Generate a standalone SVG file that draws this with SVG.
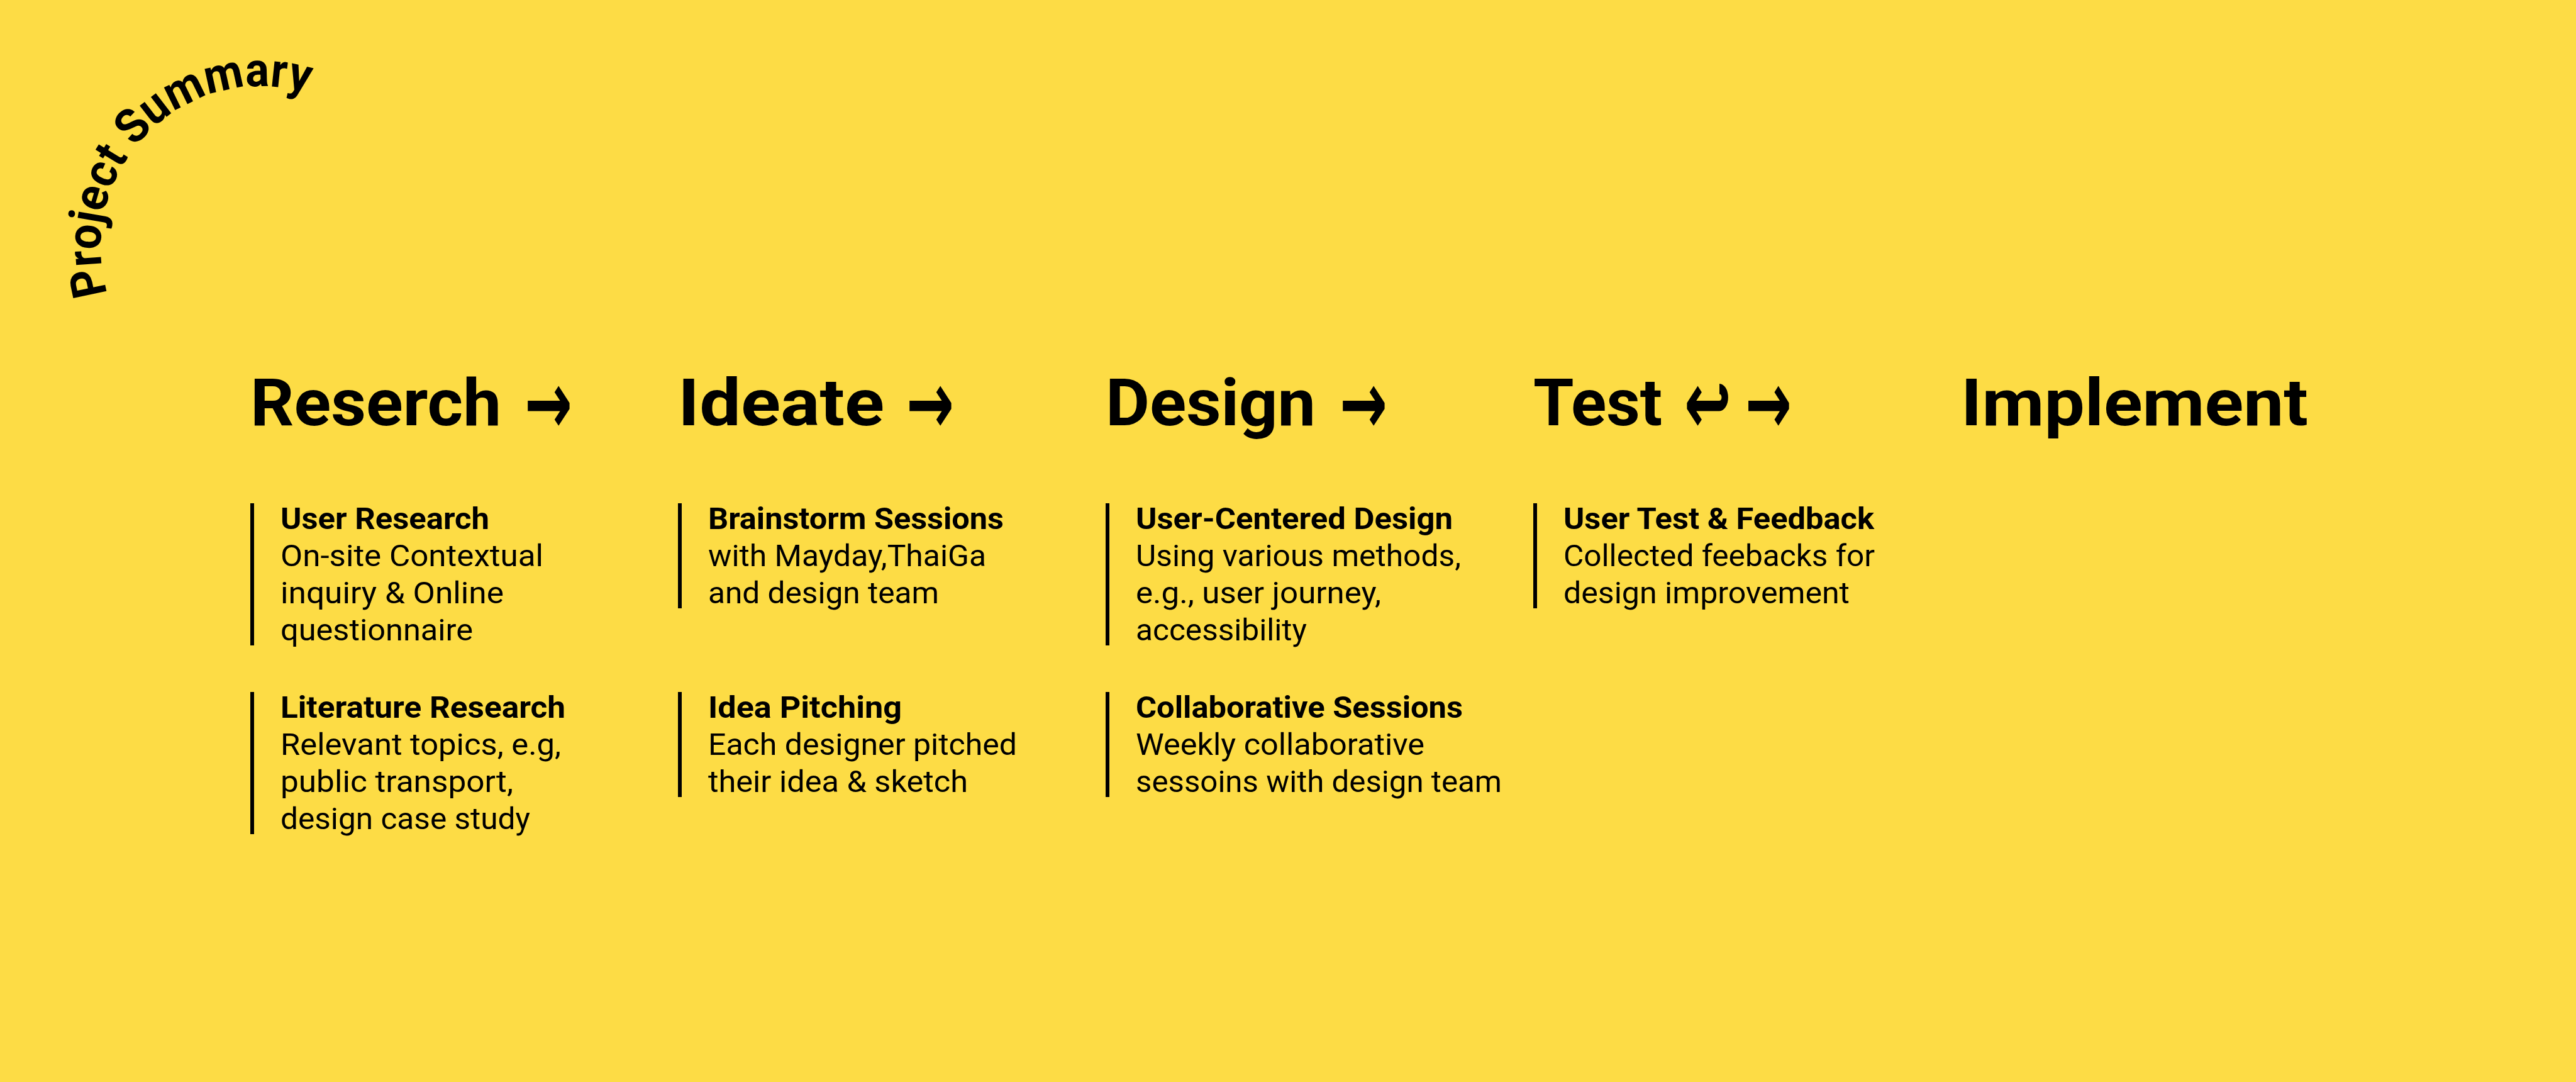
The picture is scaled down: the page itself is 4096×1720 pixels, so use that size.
<svg xmlns="http://www.w3.org/2000/svg" width="4096" height="1720" viewBox="0 0 4096 1720">
<style>
text{fill:#000;font-family:Roboto,'Liberation Sans',Arial,sans-serif}
.h{font-size:104px;font-weight:700}
.t{font-size:48px;font-weight:400}
.b{font-weight:700}
.arr{font-family:'DejaVu Sans',sans-serif;font-size:110px;font-weight:700}
.ps{font-size:76px;font-weight:700}
.bar{fill:#000}
</style>
<defs>
<path id="arc" d="M175.4,479.2 A255,255 0 0 1 542.5,171.2" fill="none"/>
</defs>
<rect width="4096" height="1720" fill="#FDDC45"/>
<g id="title">
<text class="ps"><textPath href="#arc" startOffset="13" textLength="552" lengthAdjust="spacingAndGlyphs">Project Summary</textPath></text>
</g>
<g id="connectors" transform="matrix(1,0,0,1.27,0,-186.03)">
<text class="arr" x="834" y="689" textLength="76" lengthAdjust="spacingAndGlyphs">→</text>
<text class="arr" x="1441" y="689" textLength="76" lengthAdjust="spacingAndGlyphs">→</text>
<text class="arr" x="2130" y="689" textLength="76" lengthAdjust="spacingAndGlyphs">→</text>
<text class="arr" x="2678" y="689" textLength="75" lengthAdjust="spacingAndGlyphs">↩</text>
<text class="arr" x="2775" y="689" textLength="74" lengthAdjust="spacingAndGlyphs">→</text>
</g>
<g id="research">
<text class="h" x="398" y="676" textLength="399" lengthAdjust="spacingAndGlyphs">Reserch</text>
<rect class="bar" x="398" y="800" width="6" height="226"/>
<text class="t b" x="446" y="841" textLength="332" lengthAdjust="spacingAndGlyphs">User Research</text>
<text class="t" x="446" y="900" textLength="418" lengthAdjust="spacingAndGlyphs">On-site Contextual</text>
<text class="t" x="446" y="959" textLength="355" lengthAdjust="spacingAndGlyphs">inquiry &amp; Online</text>
<text class="t" x="446" y="1018" textLength="306" lengthAdjust="spacingAndGlyphs">questionnaire</text>
<rect class="bar" x="398" y="1100" width="6" height="226"/>
<text class="t b" x="446" y="1141" textLength="453" lengthAdjust="spacingAndGlyphs">Literature Research</text>
<text class="t" x="446" y="1200" textLength="446" lengthAdjust="spacingAndGlyphs">Relevant topics, e.g,</text>
<text class="t" x="446" y="1259" textLength="370" lengthAdjust="spacingAndGlyphs">public transport,</text>
<text class="t" x="446" y="1318" textLength="397" lengthAdjust="spacingAndGlyphs">design case study</text>
</g>
<g id="ideate">
<text class="h" x="1078" y="676" textLength="328" lengthAdjust="spacingAndGlyphs">Ideate</text>
<rect class="bar" x="1078" y="800" width="6" height="167"/>
<text class="t b" x="1126" y="841" textLength="470" lengthAdjust="spacingAndGlyphs">Brainstorm Sessions</text>
<text class="t" x="1126" y="900" textLength="442" lengthAdjust="spacingAndGlyphs">with Mayday,ThaiGa</text>
<text class="t" x="1126" y="959" textLength="367" lengthAdjust="spacingAndGlyphs">and design team</text>
<rect class="bar" x="1078" y="1100" width="6" height="167"/>
<text class="t b" x="1126" y="1141" textLength="308" lengthAdjust="spacingAndGlyphs">Idea Pitching</text>
<text class="t" x="1126" y="1200" textLength="491" lengthAdjust="spacingAndGlyphs">Each designer pitched</text>
<text class="t" x="1126" y="1259" textLength="413" lengthAdjust="spacingAndGlyphs">their idea &amp; sketch</text>
</g>
<g id="design">
<text class="h" x="1758" y="676" textLength="334" lengthAdjust="spacingAndGlyphs">Design</text>
<rect class="bar" x="1758" y="800" width="6" height="226"/>
<text class="t b" x="1806" y="841" textLength="504" lengthAdjust="spacingAndGlyphs">User-Centered Design</text>
<text class="t" x="1806" y="900" textLength="517" lengthAdjust="spacingAndGlyphs">Using various methods,</text>
<text class="t" x="1806" y="959" textLength="390" lengthAdjust="spacingAndGlyphs">e.g., user journey,</text>
<text class="t" x="1806" y="1018" textLength="272" lengthAdjust="spacingAndGlyphs">accessibility</text>
<rect class="bar" x="1758" y="1100" width="6" height="167"/>
<text class="t b" x="1806" y="1141" textLength="520" lengthAdjust="spacingAndGlyphs">Collaborative Sessions</text>
<text class="t" x="1806" y="1200" textLength="459" lengthAdjust="spacingAndGlyphs">Weekly collaborative</text>
<text class="t" x="1806" y="1259" textLength="582" lengthAdjust="spacingAndGlyphs">sessoins with design team</text>
</g>
<g id="test">
<text class="h" x="2438" y="676" textLength="205" lengthAdjust="spacingAndGlyphs">Test</text>
<rect class="bar" x="2438" y="800" width="6" height="167"/>
<text class="t b" x="2486" y="841" textLength="494" lengthAdjust="spacingAndGlyphs">User Test &amp; Feedback</text>
<text class="t" x="2486" y="900" textLength="495" lengthAdjust="spacingAndGlyphs">Collected feebacks for</text>
<text class="t" x="2486" y="959" textLength="455" lengthAdjust="spacingAndGlyphs">design improvement</text>
</g>
<g id="implement">
<text class="h" x="3118" y="676" textLength="552" lengthAdjust="spacingAndGlyphs">Implement</text>
</g>
</svg>
